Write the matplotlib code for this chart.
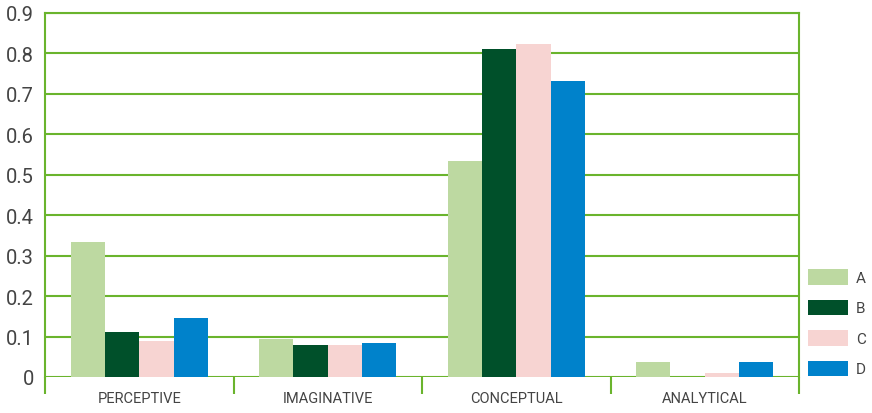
import matplotlib
matplotlib.use("Agg")
import matplotlib.pyplot as plt
import numpy as np

categories = ["PERCEPTIVE", "IMAGINATIVE", "CONCEPTUAL", "ANALYTICAL"]
series_names = ["A", "B", "C", "D"]
vals_A = [0.334, 0.094, 0.534, 0.038]
vals_B = [0.111, 0.079, 0.811, 0.0]
vals_C = [0.089, 0.079, 0.823, 0.010]
vals_D = [0.146, 0.084, 0.732, 0.038]
y_ticks = [0, 0.1, 0.2, 0.3, 0.4, 0.5, 0.6, 0.7, 0.8, 0.9]
y_tick_labels = ["0", "0.1", "0.2", "0.3", "0.4", "0.5", "0.6", "0.7", "0.8", "0.9"]

colors = ["#BDD9A1", "#00502A", "#F7D4D2", "#0082CB"]
green = "#6AB42D"
text_color = "#444444"

plt.rcParams['font.family'] = ['Roboto', 'DejaVu Sans']

fig = plt.figure(figsize=(8.72, 4.14), dpi=100)
ax = fig.add_axes([45/872, 1-378/414, (799-45)/872, (378-14)/414])

x = np.arange(len(categories))
w = 0.182
series = [vals_A, vals_B, vals_C, vals_D]
for i, (vals, name, c) in enumerate(zip(series, series_names, colors)):
    ax.bar(x + (i - 1.5) * w, vals, width=w, color=c, label=name, zorder=3)

ax.set_xlim(-0.5, len(categories) - 0.5)
ax.set_ylim(0, 0.9)
ax.set_yticks(y_ticks)
ax.set_yticklabels(y_tick_labels, fontsize=14.5, color=text_color)
ax.tick_params(axis='y', length=0, pad=8)
for yt in y_ticks:
    ax.axhline(yt, color=green, lw=1.5, zorder=1)

ax.set_xticks(np.arange(-0.5, len(categories), 1.0))
ax.set_xticklabels([])
ax.set_xticks(x, minor=True)
ax.set_xticklabels(categories, minor=True, fontsize=10.5, color=text_color)
ax.tick_params(axis='x', which='major', length=12, width=1.5, color=green, direction='out')
ax.tick_params(axis='x', which='minor', length=0, pad=10)

for s in ['left', 'right', 'top']:
    ax.spines[s].set_color(green)
    ax.spines[s].set_linewidth(1.5)
ax.spines['bottom'].set_visible(False)
ax.spines['left'].set_bounds(0, 0.9)
ax.spines['right'].set_bounds(0, 0.9)

leg = fig.legend(loc='upper left', bbox_to_anchor=(808/872, 1-270/414),
                 frameon=False, fontsize=11, handlelength=2.6, handleheight=1.2,
                 labelspacing=0.95, handletextpad=0.55, borderpad=0, borderaxespad=0)
for t in leg.get_texts():
    t.set_color(text_color)

fig.savefig("out.png", dpi=100)
